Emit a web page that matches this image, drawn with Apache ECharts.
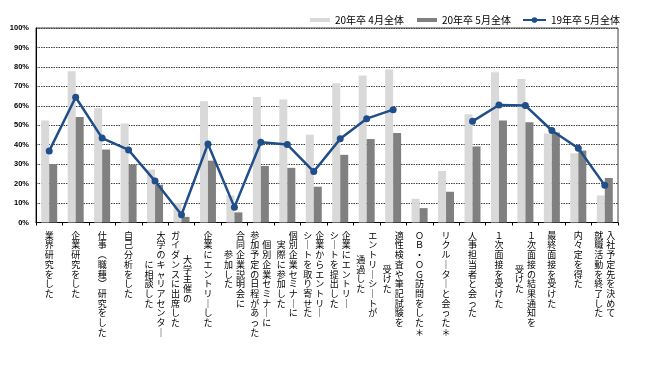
<!DOCTYPE html>
<html>
<head>
<meta charset="utf-8">
<script src="https://cdn.jsdelivr.net/npm/echarts@6/dist/echarts.min.js"></script>
<style>
html,body{margin:0;padding:0;background:#fff;}
#c{width:650px;height:369px;}
</style>
</head>
<body>
<div id="c"></div>
<script>
// ---- data ----
const categories = [
  '業界研究をした',
  '企業研究をした',
  '仕事(職種)研究をした',
  '自己分析をした',
  '大学のキャリアセンター\nに相談した',
  '大学主催の\nガイダンスに出席した',
  '企業にエントリーした',
  '合同企業説明会に\n参加した',
  '個別企業セミナーに\n参加予定の日程があった',
  '個別企業セミナーに\n実際に参加した',
  '企業からエントリー\nシートを取り寄せた',
  '企業にエントリー\nシートを提出した',
  'エントリーシートが\n通過した',
  '適性検査や筆記試験を\n受けた',
  'OB・OG訪問をした＊',
  'リクルーターと会った＊',
  '人事担当者と会った',
  '1次面接を受けた',
  '1次面接の結果通知を\n受けた',
  '最終面接を受けた',
  '内々定を得た',
  '入社予定先を決めて\n就職活動を終了した'
];
const seriesNames = ['20年卒 4月全体', '20年卒 5月全体', '19年卒 5月全体'];
const apr20 = [52.5, 77.8, 58.7, 50.9, 27.2, 10.0, 62.3, 13.9, 64.5, 63.2, 45.1, 71.6, 75.6, 78.7, 12.2, 26.5, 55.6, 77.3, 73.8, 45.8, 35.6, 13.9];
const may20 = [30.0, 54.2, 37.5, 29.8, 19.4, 2.9, 31.8, 5.2, 29.1, 28.1, 18.4, 34.8, 42.9, 46.0, 7.4, 15.8, 39.1, 52.5, 51.6, 46.3, 37.0, 22.9];
const may19 = [36.8, 64.4, 43.4, 37.3, 21.3, 4.0, 40.4, 7.9, 41.3, 40.1, 26.2, 43.0, 53.4, 58.0, null, null, 52.0, 60.4, 60.1, 47.3, 38.2, 19.1];
const yTicks = [0, 10, 20, 30, 40, 50, 60, 70, 80, 90, 100];

// ---- vertical label helpers ----
const FONT = '"Noto Sans CJK JP", "Noto Sans CJK SC", sans-serif';
const LH = 9.7;
const charMap = {'ー': '｜', '(': '︵', ')': '︶', '1': '１', 'O': 'Ｏ', 'B': 'Ｂ', 'G': 'Ｇ'};
function conv(s) { return Array.from(s).map(ch => charMap[ch] || ch); }
function col(text, style, n) {
  const chars = conv(text);
  const half = n - chars.length;
  const lines = [];
  if (half > 0) lines.push('{o' + half + '|\u3000}');
  chars.forEach(ch => lines.push('{' + style + '|' + ch + '}'));
  return lines.join('\n');
}
const rich = {
  c: {fontSize: 9, lineHeight: LH, fontFamily: FONT, color: '#000'},
  r: {fontSize: 9, lineHeight: LH, fontFamily: FONT, color: '#000', padding: [0, 0, 0, 12]},
  l: {fontSize: 9, lineHeight: LH, fontFamily: FONT, color: '#000', padding: [0, 12, 0, 0]}
};
for (let i = 1; i <= 16; i++) rich['o' + i] = {fontSize: 1, lineHeight: i * LH / 2, height: i * LH / 2};

function fmtA(v) {
  const p = v.split('\n');
  if (p.length === 1) return col(p[0], 'c', Array.from(p[0]).length);
  const n = Math.max(Array.from(p[0]).length, Array.from(p[1]).length);
  return col(p[0], 'r', n);
}
function fmtB(v) {
  const p = v.split('\n');
  if (p.length === 1) return '';
  const n = Math.max(Array.from(p[0]).length, Array.from(p[1]).length);
  return col(p[1], 'l', n);
}

const chart = echarts.init(document.getElementById('c'), null, {renderer: 'canvas'});
const legendText = {fontSize: 10, fontFamily: FONT, color: '#000'};
chart.setOption({
  animation: false,
  backgroundColor: '#fff',
  grid: {left: 36, right: 32, top: 28, bottom: 146.5, show: true, borderColor: '#404040', borderWidth: 1},
  legend: [
    {data: [seriesNames[0]], left: 305, top: 10, icon: 'rect', itemWidth: 20, itemHeight: 4, textStyle: legendText},
    {data: [seriesNames[1]], left: 412, top: 10, icon: 'rect', itemWidth: 20, itemHeight: 4, textStyle: legendText},
    {data: [seriesNames[2]], left: 517, top: 10, itemWidth: 23, itemHeight: 7, textStyle: legendText}
  ],
  xAxis: [
    {
      type: 'category', data: categories, position: 'bottom', boundaryGap: true,
      axisLine: {lineStyle: {color: '#000', width: 1}},
      axisTick: {show: true, length: 3, lineStyle: {color: '#000'}},
      axisLabel: {interval: 0, margin: 8, verticalAlign: 'top', formatter: fmtA, rich: rich},
      splitLine: {show: false}
    },
    {
      type: 'category', data: categories, position: 'bottom', boundaryGap: true,
      axisLine: {show: false}, axisTick: {show: false},
      axisLabel: {interval: 0, margin: 8, verticalAlign: 'top', formatter: fmtB, rich: rich},
      splitLine: {show: false}
    }
  ],
  yAxis: {
    type: 'value', min: yTicks[0], max: yTicks[yTicks.length - 1], interval: 10,
    axisLine: {show: true, lineStyle: {color: '#000'}},
    axisTick: {show: false},
    axisLabel: {formatter: '{value}%', fontSize: 7.5, fontFamily: '"Liberation Sans", Arial, sans-serif', fontWeight: 'bold', color: '#000', margin: 7},
    splitLine: {show: true, lineStyle: {color: '#404040', type: [1.5, 1], width: 1}}
  },
  series: [
    {name: seriesNames[0], type: 'bar', data: apr20, barWidth: 8, barGap: '0%', itemStyle: {color: '#d9d9d9'}},
    {name: seriesNames[1], type: 'bar', data: may20, barWidth: 8, barGap: '0%', itemStyle: {color: '#808080'}},
    {name: seriesNames[2], type: 'line', data: may19, connectNulls: false, symbol: 'circle', symbolSize: 7,
     lineStyle: {color: '#1f4e89', width: 2.5}, itemStyle: {color: '#1f4e89'}, z: 5}
  ]
});
</script>
</body>
</html>
